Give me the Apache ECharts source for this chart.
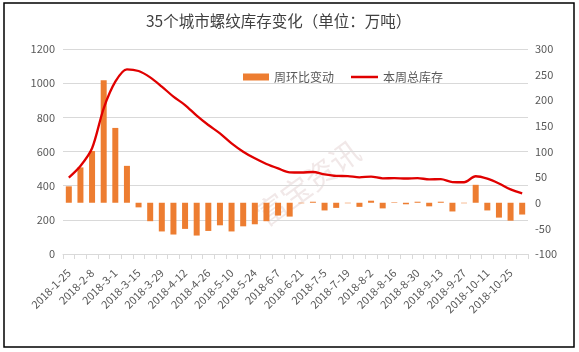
<!DOCTYPE html>
<html>
<head>
<meta charset="utf-8">
<script src="https://cdn.jsdelivr.net/npm/echarts@6/dist/echarts.min.js"></script>
<style>
  html, body { margin: 0; padding: 0; background: #fff; }
  #chart { width: 579px; height: 352px; }
</style>
</head>
<body>
<div id="chart"></div>
<script>
const dates = [
  '2018-1-25', '2018-2-1', '2018-2-8', '2018-2-22', '2018-3-1', '2018-3-8', '2018-3-15', '2018-3-22',
  '2018-3-29', '2018-4-4', '2018-4-12', '2018-4-19', '2018-4-26', '2018-5-3', '2018-5-10', '2018-5-17',
  '2018-5-24', '2018-5-31', '2018-6-7', '2018-6-14', '2018-6-21', '2018-6-28', '2018-7-5', '2018-7-12',
  '2018-7-19', '2018-7-26', '2018-8-2', '2018-8-9', '2018-8-16', '2018-8-23', '2018-8-30', '2018-9-6',
  '2018-9-13', '2018-9-20', '2018-9-27', '2018-10-4', '2018-10-11', '2018-10-18', '2018-10-25', '2018-11-1'
];

// 周环比变动 (right axis)
const weeklyChange = [
  32, 69, 101, 239, 146, 72, -9, -36, -56, -62, -51, -64, -55, -44, -56, -46,
  -42, -36, -25, -27, -1, 2, -15, -10, -1, -8, 4, -11, 1, -3, 2, -7,
  2, -17, -1, 35, -15, -29, -35, -23
];

// 本周总库存 (left axis)
const totalStock = [
  447, 515, 619, 853, 1009, 1081, 1071, 1034, 980, 921, 872, 810, 755, 706, 648, 599,
  560, 527, 501, 478, 477, 480, 466, 457, 456, 449, 453, 443, 444, 442, 444, 437,
  438, 421, 420, 455, 441, 413, 378, 355
];

const leftTicks = { min: 0, max: 1200, interval: 200 };
const rightTicks = { min: -100, max: 300, interval: 50 };

const font = '"Noto Sans CJK SC", "Liberation Sans", sans-serif';
const labelColor = '#595959';
const barColor = '#ed7d31';
const lineColor = '#e00000';

const chart = echarts.init(document.getElementById('chart'), null, { renderer: 'canvas' });

chart.setOption({
  animation: false,
  backgroundColor: '#fff',
  textStyle: { fontFamily: font },
  title: {
    text: '35个城市螺纹库存变化（单位：万吨）',
    left: 141,
    top: 8,
    textStyle: { fontFamily: font, fontSize: 15.5, fontWeight: 'normal', color: '#404040' }
  },
  legend: [
    {
      left: 238,
      top: 66,
      itemWidth: 26,
      itemHeight: 7,
      textStyle: { fontFamily: font, fontSize: 12, color: labelColor },
      data: [{ name: '周环比变动', icon: 'rect' }]
    },
    {
      left: 346,
      top: 66,
      itemWidth: 27,
      itemHeight: 2.5,
      textStyle: { fontFamily: font, fontSize: 12, color: labelColor },
      data: [{ name: '本周总库存', icon: 'rect' }]
    }
  ],
  grid: { left: 63, right: 51, top: 49, bottom: 98 },
  xAxis: {
    type: 'category',
    data: dates,
    boundaryGap: true,
    axisLine: { lineStyle: { color: '#d9d9d9' } },
    axisTick: { show: true, interval: 0, length: 5, lineStyle: { color: '#d9d9d9' } },
    axisLabel: {
      interval: 1,
      rotate: 45,
      fontSize: 11,
      color: labelColor,
      fontFamily: font,
      margin: 17
    }
  },
  yAxis: [
    {
      type: 'value',
      min: leftTicks.min,
      max: leftTicks.max,
      interval: leftTicks.interval,
      axisLine: { show: false },
      axisTick: { show: false },
      axisLabel: { fontSize: 11, color: labelColor, margin: 8, formatter: v => String(v) },
      splitLine: { lineStyle: { color: '#d9d9d9', width: 1 } }
    },
    {
      type: 'value',
      min: rightTicks.min,
      max: rightTicks.max,
      interval: rightTicks.interval,
      axisLine: { show: false },
      axisTick: { show: false },
      axisLabel: { fontSize: 11, color: labelColor, margin: 7, formatter: v => String(v) },
      splitLine: { show: false }
    }
  ],
  graphic: [
    {
      type: 'rect',
      shape: { x: 4, y: 3, width: 570, height: 344 },
      style: { fill: 'none', stroke: '#000', lineWidth: 1.5 },
      silent: true
    },
    {
      type: 'text',
      x: 308,
      y: 183,
      rotation: Math.PI / 5,
      style: {
        text: '富宝资讯',
        font: '30px "Noto Sans CJK SC"',
        fill: 'rgba(190, 150, 150, 0.22)',
        textAlign: 'center',
        textVerticalAlign: 'middle'
      },
      silent: true,
      z: 0
    }
  ],
  series: [
    {
      name: '周环比变动',
      type: 'bar',
      yAxisIndex: 1,
      data: weeklyChange,
      barWidth: 6,
      itemStyle: { color: barColor },
      z: 2
    },
    {
      name: '本周总库存',
      type: 'line',
      yAxisIndex: 0,
      data: totalStock,
      smooth: 0.3,
      symbol: 'none',
      lineStyle: { color: lineColor, width: 2.3 },
      itemStyle: { color: lineColor },
      z: 3
    }
  ]
});
</script>
</body>
</html>
